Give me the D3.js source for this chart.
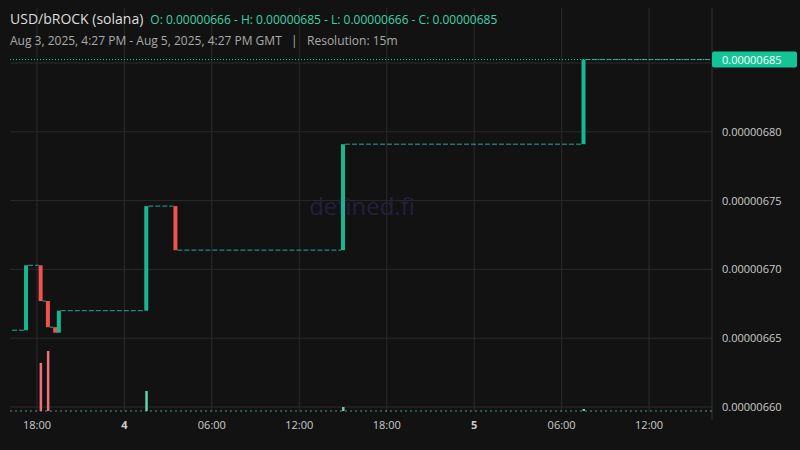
<!DOCTYPE html><html><head><meta charset="utf-8"><script src="https://cdn.jsdelivr.net/npm/d3@7"></script>
<style>body{margin:0;background:#121212}</style></head><body><svg id="c" width="800" height="450"></svg><script>
// price-change candles (15m)
const candleTimes = ["2025-08-03T17:15","2025-08-03T18:15","2025-08-03T18:45","2025-08-03T19:15","2025-08-03T19:30","2025-08-04T01:30","2025-08-04T03:30","2025-08-04T15:00","2025-08-05T07:30"];
const opens  = [6.6558,6.7030,6.6770,6.6580,6.6540,6.6700,6.7460,6.7140,6.7910];
const closes = [6.7030,6.6770,6.6580,6.6540,6.6700,6.7460,6.7140,6.7910,6.8525];
const volTimes = ["2025-08-03T18:15","2025-08-03T18:45","2025-08-04T01:30","2025-08-04T15:00","2025-08-05T07:30"];
const volumes = [48,60,20,4,2];
const volUp = [false,false,true,true,true];
const yTicks = [6.60,6.65,6.70,6.75,6.80,6.85];
const startTime = "2025-08-03T16:09", endTime = "2025-08-05T16:19";

const svg=d3.select("#c");
const W=800,L=10,R=712,T=8,B=412;
const pt=d3.utcParse("%Y-%m-%dT%H:%M");
const x=d3.scaleUtc().domain([pt(startTime),pt(endTime)]).range([L,R]);
const y=d3.scaleLinear().domain([6.60,6.85]).range([407,63]);
const yv=d3.scaleLinear().domain([0,100]).range([411,311]);
svg.append("rect").attr("width",W).attr("height",450).attr("fill","#121212");
const g=svg.append("g");
const xt=x.ticks(d3.utcHour.every(6));
g.selectAll(".vg").data(xt).join("line").attr("x1",d=>x(d)).attr("x2",d=>x(d)).attr("y1",T).attr("y2",B).attr("stroke","#2b2b2b");
g.selectAll(".hg").data(yTicks).join("line").attr("x1",L).attr("x2",R).attr("y1",d=>y(d)).attr("y2",d=>y(d)).attr("stroke","#2b2b2b");
svg.append("line").attr("x1",R).attr("x2",R).attr("y1",T).attr("y2",B+8).attr("stroke","#333");
svg.append("text").attr("x",362).attr("y",215).attr("text-anchor","middle").attr("font-family","Open Sans").attr("font-size",24).attr("fill","#22213c").text("defined.fi");
svg.selectAll(".xl").data(xt).join("text").attr("x",d=>x(d)).attr("y",429).attr("text-anchor","middle")
 .attr("font-family","Open Sans").attr("font-size",11).attr("fill","#ccc")
 .attr("font-weight",d=>d.getUTCHours()===0?"bold":"normal")
 .text(d=>d.getUTCHours()===0?d.getUTCDate():d3.utcFormat("%H:%M")(d));
svg.selectAll(".yl").data(yTicks.slice(0,5)).join("text").attr("x",722).attr("y",d=>y(d)+4)
 .attr("font-family","Open Sans").attr("font-size",11).attr("fill","#ccc").text(d=>(d/1e6).toFixed(8));
const vt=volTimes.map(pt);
svg.append("line").attr("x1",L).attr("x2",R).attr("y1",411).attr("y2",411).attr("stroke","#6fcfb0").attr("stroke-dasharray","2,3").attr("opacity",0.7);
svg.selectAll(".v").data(volumes).join("rect").attr("x",(d,i)=>x(vt[i])-1).attr("width",2.5)
 .attr("y",d=>yv(d)).attr("height",d=>411-yv(d)).attr("fill",(d,i)=>volUp[i]?"#5fd3a8":"#f0707a");
const ct=candleTimes.map(pt);
const flats=[[pt(startTime),ct[0],opens[0]]];
for(let i=0;i<ct.length;i++){const nx=i+1<ct.length?ct[i+1]:pt(endTime);flats.push([ct[i],nx,closes[i]]);}
svg.selectAll(".f").data(flats).join("line").attr("x1",d=>x(d[0])+2).attr("x2",d=>x(d[1])-2)
 .attr("y1",d=>y(d[2])).attr("y2",d=>y(d[2])).attr("stroke","#26a69a").attr("stroke-dasharray","5,2");
svg.selectAll(".c").data(opens).join("rect").attr("x",(d,i)=>x(ct[i])-2).attr("width",4)
 .attr("y",(d,i)=>y(Math.max(d,closes[i]))).attr("height",(d,i)=>Math.max(2,Math.abs(y(d)-y(closes[i]))))
 .attr("fill",(d,i)=>closes[i]>=d?"#17b890":"#ef5350");
const last=closes[closes.length-1];
svg.append("line").attr("x1",L).attr("x2",R).attr("y1",y(last)).attr("y2",y(last)).attr("stroke","#1fd3a0").attr("stroke-dasharray","1,2");
svg.append("rect").attr("x",712).attr("y",y(last)-8).attr("width",85).attr("height",16).attr("rx",2).attr("fill","#13c594");
svg.append("text").attr("x",722).attr("y",y(last)+4).attr("font-family","Open Sans").attr("font-size",11).attr("fill","#fff").text("0.00000685");
const h=svg.append("text").attr("x",10).attr("y",24).attr("font-family","Open Sans");
h.append("tspan").attr("font-size",14).attr("fill","#ddd").text("USD/bROCK (solana)");
h.append("tspan").attr("dx",7).attr("font-size",12).attr("fill","#3fd3a8").text("O: 0.00000666 - H: 0.00000685 - L: 0.00000666 - C: 0.00000685");
svg.append("text").attr("x",10).attr("y",45).attr("font-family","Open Sans").attr("font-size",12).attr("fill","#aaa")
 .text("Aug 3, 2025, 4:27 PM - Aug 5, 2025, 4:27 PM GMT   |   Resolution: 15m").attr("xml:space","preserve").style("white-space","pre");
</script></body></html>
